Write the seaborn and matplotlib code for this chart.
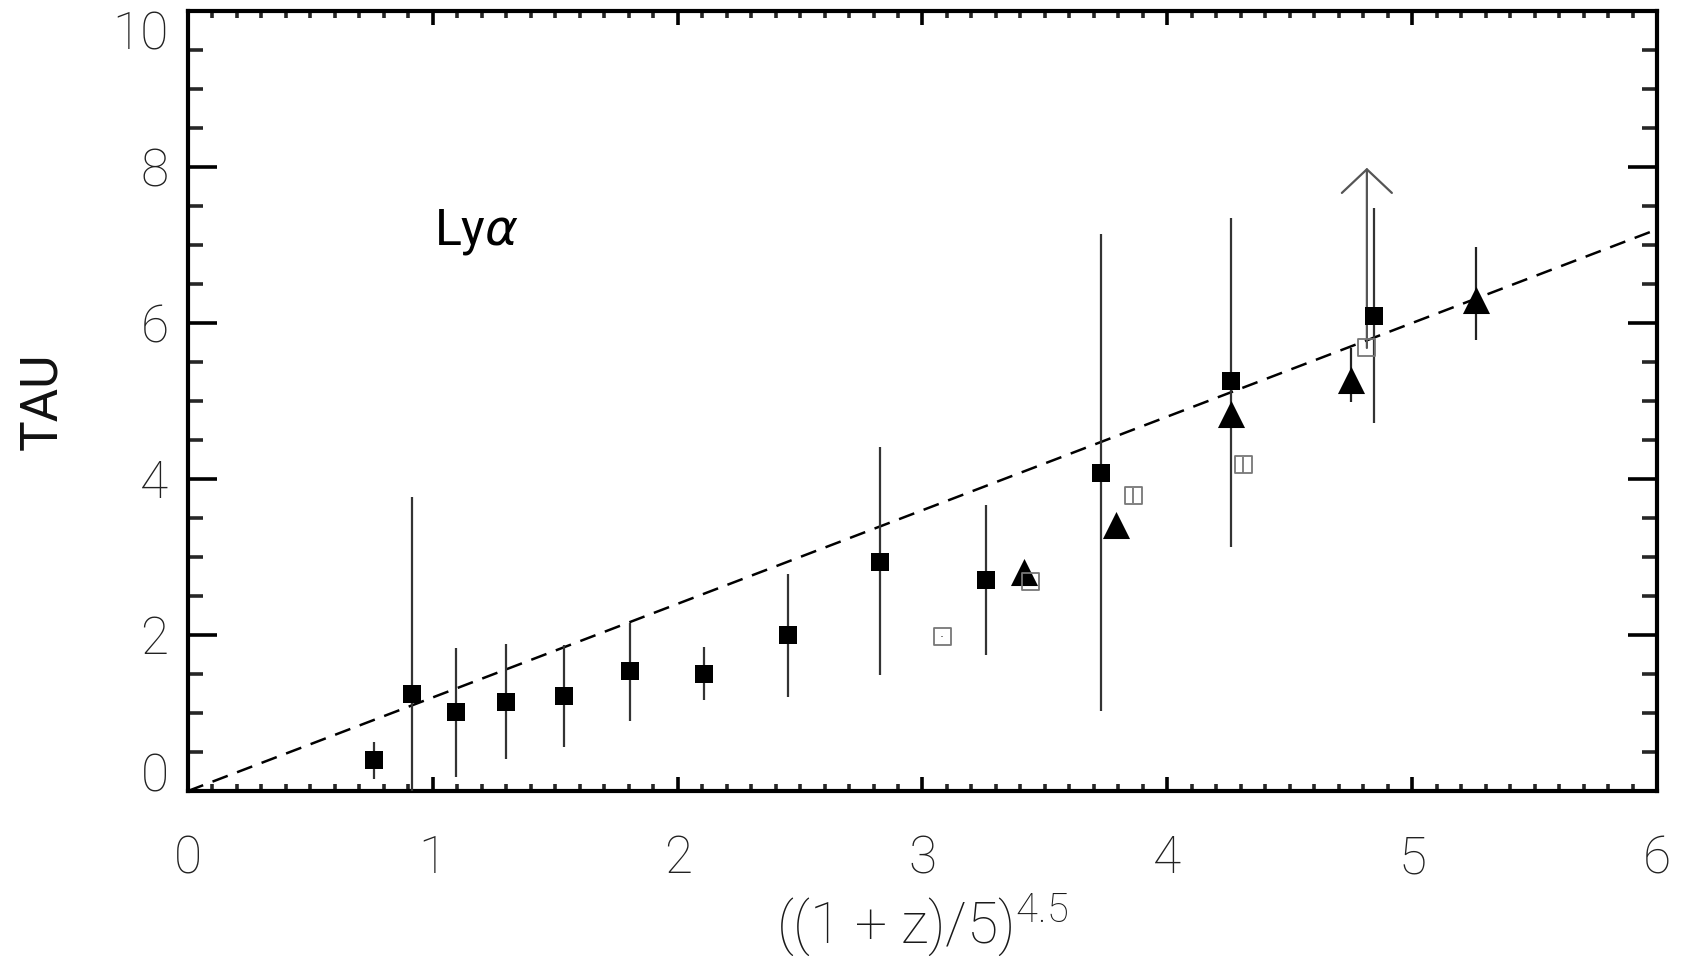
import numpy as np
import pandas as pd
import matplotlib
matplotlib.use("Agg")
import matplotlib.pyplot as plt
import seaborn as sns

# ---------------- data ----------------
sq_x = [0.76, 0.915, 1.095, 1.30, 1.535, 1.806, 2.106, 2.449, 2.828, 3.26, 3.73, 4.26, 4.845]
sq_y = [0.40, 1.24, 1.01, 1.14, 1.22, 1.54, 1.50, 2.00, 2.94, 2.71, 4.08, 5.26, 6.09]
sq_lo = [0.15, -0.10, 0.18, 0.41, 0.57, 0.90, 1.17, 1.20, 1.49, 1.74, 1.02, 3.13, 4.72]
sq_hi = [0.63, 3.77, 1.83, 1.89, 1.87, 2.15, 1.84, 2.78, 4.41, 3.67, 7.14, 7.35, 7.48]

tri_x = [3.415, 3.79, 4.26, 4.75, 5.26]
tri_y = [2.81, 3.41, 4.83, 5.27, 6.29]
tri_lo = [2.81, 3.41, 4.83, 4.99, 5.78]
tri_hi = [2.81, 3.41, 4.83, 5.68, 6.97]

open_x = [3.08, 3.44, 3.86, 4.31, 4.815]
open_y = [1.98, 2.68, 3.79, 4.18, 5.68]
open_err = [0.01, 0.0, 0.10, 0.10, 0.0]

limit_x = [4.815]
limit_from = [5.68]
limit_to = [7.99]

fit_x = [0.0, 6.0]
fit_y = [0.0, 7.2]

x_ticks = [0, 1, 2, 3, 4, 5, 6]
y_ticks = [0, 2, 4, 6, 8, 10]

# ---------------- style ----------------
sns.set_theme(style="white")
plt.rcParams["font.family"] = ["Roboto", "DejaVu Sans"]
plt.rcParams["mathtext.fontset"] = "custom"
plt.rcParams["mathtext.rm"] = "Roboto:light"
plt.rcParams["mathtext.it"] = "DejaVu Sans:italic"
plt.rcParams["mathtext.default"] = "rm"

fig = plt.figure(figsize=(16.9, 9.56), dpi=100)
ax = fig.add_axes([188 / 1690, 1 - 791 / 956, (1657 - 188) / 1690, (791 - 11) / 956])

# dashed fit line
sns.lineplot(x=fit_x, y=fit_y, ax=ax, color="black", lw=1.8, dashes=False,
             estimator=None, sort=False, zorder=2)
ax.lines[-1].set_dashes([6.5, 4.0])

# error bars
ax.vlines(sq_x, sq_lo, sq_hi, color="#333333", lw=1.6, zorder=3)
ax.vlines(tri_x, tri_lo, tri_hi, color="#222222", lw=1.6, zorder=3)
ax.vlines(open_x, np.array(open_y) - np.array(open_err),
          np.array(open_y) + np.array(open_err), color="#777777", lw=1.3, zorder=3)

# lower-limit arrow
for xx, y0, y1 in zip(limit_x, limit_from, limit_to):
    ax.annotate("", xy=(xx, y1), xytext=(xx, y0),
                arrowprops=dict(arrowstyle="->,head_length=0.85,head_width=0.9",
                                color="#555555", lw=1.6, mutation_scale=20,
                                shrinkA=0, shrinkB=0), zorder=3)

# markers
sns.scatterplot(x=sq_x, y=sq_y, ax=ax, marker="s", s=175, color="black",
                linewidth=0, zorder=4)
sns.scatterplot(x=tri_x, y=tri_y, ax=ax, marker="^", s=380, color="black",
                linewidth=0, zorder=4)
sns.scatterplot(x=open_x, y=open_y, ax=ax, marker="s", s=150, facecolor="none",
                edgecolor="#777777", linewidth=1.3, zorder=4)

ax.text(1.005, 7.17, r"Ly$\mathit{\alpha}$", fontsize=36, va="center", ha="left",
        fontweight="normal", color="black")

# axes
ax.set_xlim(0, 6)
ax.set_ylim(0, 10)
ax.set_xticks(x_ticks)
ax.set_yticks(y_ticks)
ax.set_xticks(np.arange(0, 6.001, 0.1), minor=True)
ax.set_yticks(np.arange(0, 10.001, 0.5), minor=True)
ax.set_xticklabels([str(v) for v in x_ticks])
ax.set_yticklabels([str(v) for v in y_ticks])

for s in ax.spines.values():
    s.set_linewidth(3.0)
    s.set_color("black")

ax.tick_params(axis="x", which="major", direction="in", length=10, width=2.6,
               top=True, bottom=True, labelsize=37, pad=31, colors="black")
ax.tick_params(axis="x", which="minor", direction="in", length=5, width=2.6,
               top=True, bottom=True)
ax.tick_params(axis="y", which="major", direction="in", length=21, width=2.6,
               left=True, right=True, labelsize=37, pad=14, colors="black")
ax.tick_params(axis="y", which="minor", direction="in", length=11, width=2.6,
               left=True, right=True)
for lab in ax.get_xticklabels() + ax.get_yticklabels():
    lab.set_color("#222222")
    lab.set_fontweight("light")
ylabs = ax.get_yticklabels()
ylabs[-1].set_va("top")
ylabs[0].set_va("baseline")

ax.set_xlabel(r"((1 + z)/5)$^{4.5}$", fontsize=41, color="#1a1a1a", fontweight="light")
ax.set_ylabel("TAU", fontsize=37, color="#111111", fontweight="normal")
ax.xaxis.set_label_coords(0.5, -0.128)
ax.yaxis.set_label_coords(-0.082, 0.5)

fig.savefig("out.png", dpi=100, facecolor="white")
